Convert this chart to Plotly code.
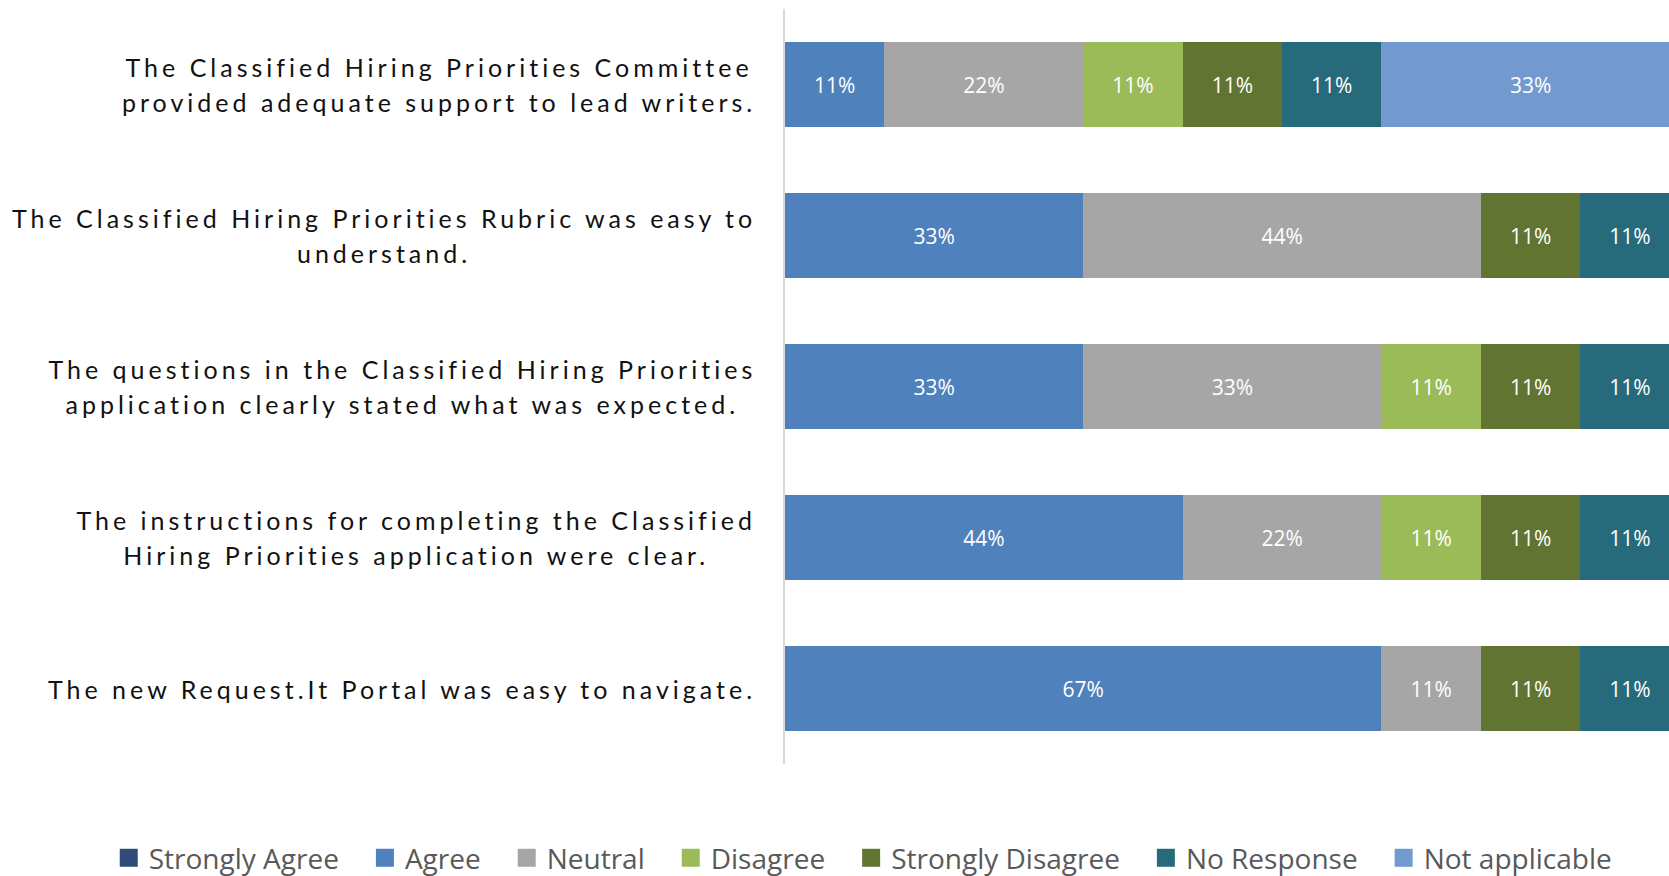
import plotly.graph_objects as go

questions = [
    "The Classified Hiring Priorities Committee<br>provided adequate support to lead writers.",
    "The Classified Hiring Priorities Rubric was easy to<br>understand.",
    "The questions in the Classified Hiring Priorities<br>application clearly stated what was expected.",
    "The instructions for completing the Classified<br>Hiring Priorities application were clear.",
    "The new Request.It Portal was easy to navigate.",
]
keys = ["q1", "q2", "q3", "q4", "q5"]

respondents = 9
series_names = ["Strongly Agree", "Agree", "Neutral", "Disagree",
                "Strongly Disagree", "No Response", "Not applicable"]
# counts out of 9 respondents, per question (top to bottom)
strongly_agree = [0, 0, 0, 0, 0]
agree = [1, 3, 3, 4, 6]
neutral = [2, 4, 3, 2, 1]
disagree = [1, 0, 1, 1, 0]
strongly_disagree = [1, 1, 1, 1, 1]
no_response = [1, 1, 1, 1, 1]
not_applicable = [3, 0, 0, 0, 0]

colors = ["#2E4B7A", "#4F81BD", "#A6A6A6", "#9BBB59", "#617431", "#266A7B", "#729ACE"]

all_series = [strongly_agree, agree, neutral, disagree,
              strongly_disagree, no_response, not_applicable]

fig = go.Figure()
for name, counts, col in zip(series_names, all_series, colors):
    vals = [c / respondents for c in counts]
    texts = [f"{round(v*100)}%" if v > 0 else "" for v in vals]
    fig.add_trace(go.Bar(
        y=keys, x=vals, name=name, orientation="h",
        marker=dict(color=col, line=dict(width=0)),
        text=texts, textposition="inside", insidetextanchor="middle",
        textangle=0, constraintext="none",
        textfont=dict(family="Open Sans", size=21, color="white"),
        hoverinfo="x+name",
    ))

annotations = []
for k, q in zip(keys, questions):
    annotations.append(dict(
        x=0, xref="paper", y=k, yref="y", text=q, showarrow=False,
        xanchor="right", yanchor="middle", align="center", xshift=-27,
        font=dict(family="Lato", size=25, color="#111111"),
    ))

fig.update_layout(
    width=1669, height=876,
    barmode="stack", bargap=0.443,
    margin=dict(l=785, r=0, t=9, b=112, autoexpand=False),
    paper_bgcolor="white", plot_bgcolor="white",
    xaxis=dict(range=[0, 0.988], visible=False, fixedrange=True),
    yaxis=dict(autorange="reversed", showticklabels=False, showgrid=False,
               showline=True, linecolor="#D9D9D9", linewidth=1.5, ticks="",
               zeroline=False, fixedrange=True),
    legend=dict(orientation="h", x=-0.765, xanchor="left", y=-0.1246,
                yanchor="middle", traceorder="normal",
                itemclick=False, itemdoubleclick=False,
                font=dict(family="Open Sans", size=28, color="#595959")),
    annotations=annotations,
    showlegend=True,
)

# Page/style tweaks: letter-spaced labels with taller leading, wider legend spacing
post = """
document.body.style.margin = '0';
var gd = document.querySelector('.js-plotly-plot');
var LS = 4.0, LH = 35.5;
gd.querySelectorAll('text.annotation-text').forEach(function(t){
  var b0 = t.getBBox();
  t.style.letterSpacing = LS + 'px';
  t.querySelectorAll('tspan.line').forEach(function(l, i){
    l.setAttribute('dy', String(i * LH));
  });
  var b1 = t.getBBox();
  var dx = (b0.x + b0.width) - (b1.x + b1.width);
  var dy = (b0.y + b0.height / 2) - (b1.y + b1.height / 2);
  var tr = t.getAttribute('transform') || '';
  t.setAttribute('transform', tr + ' translate(' + dx + ',' + dy + ')');
});
var EXTRA = 21;
var sb = gd.querySelector('.legend .scrollbox');
if (sb) sb.removeAttribute('clip-path');
gd.querySelectorAll('.legend g.traces').forEach(function(g, i){
  var tr = g.getAttribute('transform') || '';
  var m = /translate\\(\\s*([-\\d.e]+)[\\s,]+([-\\d.e]+)\\s*\\)/.exec(tr);
  if (m) {
    g.setAttribute('transform', 'translate(' + (parseFloat(m[1]) + i * EXTRA) + ',' + m[2] + ')');
  }
  g.querySelectorAll('.legendpoints path').forEach(function(p){
    p.setAttribute('transform', (p.getAttribute('transform') || '') + ' scale(1.5)');
  });
});
"""

fig.write_html("out.html", post_script=post, config={"displayModeBar": False})
